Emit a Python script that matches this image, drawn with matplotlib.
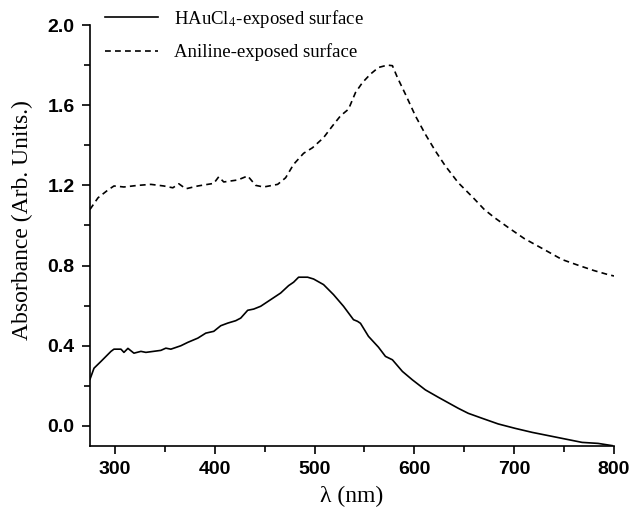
import matplotlib
matplotlib.use('Agg')
import matplotlib.pyplot as plt
from matplotlib.ticker import MultipleLocator

wl_hau = [275, 279, 286, 296, 299, 306, 309, 313, 319, 326, 331, 346, 351, 356,
          366, 373, 383, 391, 399, 406, 413, 421, 426, 433, 439, 446, 456, 466,
          474, 479, 484, 493, 499, 509, 519, 529, 539, 543, 546, 554, 564, 571,
          578, 588, 598, 611, 624, 644, 654, 668, 684, 701, 718, 734, 751, 768,
          784, 798]
abs_hau = [0.233, 0.288, 0.322, 0.372, 0.383, 0.383, 0.367, 0.387, 0.363, 0.372,
           0.367, 0.377, 0.388, 0.383, 0.400, 0.417, 0.438, 0.463, 0.472, 0.500,
           0.513, 0.525, 0.538, 0.577, 0.583, 0.597, 0.630, 0.663, 0.700, 0.717,
           0.742, 0.742, 0.733, 0.705, 0.655, 0.597, 0.530, 0.522, 0.512, 0.447,
           0.393, 0.347, 0.330, 0.272, 0.230, 0.180, 0.143, 0.088, 0.063, 0.038,
           0.010, -0.012, -0.032, -0.048, -0.065, -0.082, -0.087, -0.098]

wl_ani = [275, 283, 293, 299, 309, 323, 336, 349, 358, 364, 371, 383, 399, 404,
          409, 423, 433, 441, 449, 463, 471, 479, 489, 498, 509, 518, 526, 534,
          541, 548, 556, 564, 573, 578, 583, 591, 601, 611, 621, 631, 644, 659,
          670, 680, 694, 710, 730, 748, 765, 780, 794, 800]
abs_ani = [1.080, 1.138, 1.177, 1.197, 1.192, 1.200, 1.205, 1.197, 1.188, 1.208,
           1.183, 1.197, 1.210, 1.243, 1.217, 1.227, 1.247, 1.200, 1.192, 1.205,
           1.238, 1.305, 1.360, 1.388, 1.438, 1.497, 1.547, 1.580, 1.663, 1.713,
           1.755, 1.788, 1.800, 1.797, 1.738, 1.655, 1.547, 1.455, 1.372, 1.297,
           1.213, 1.138, 1.080, 1.040, 0.990, 0.935, 0.880, 0.830, 0.800, 0.775,
           0.755, 0.748]

plt.rcParams['mathtext.fontset'] = 'stix'
serif = 'Liberation Serif'
sans = 'Liberation Sans'

fig = plt.figure(figsize=(6.3, 5.13), dpi=100)
ax = fig.add_axes([90 / 630, 1 - 446 / 513, 524 / 630, 421 / 513])

ax.plot(wl_hau, abs_hau, color='black', linewidth=1.2, label='HAuCl$_4$-exposed surface')
ax.plot(wl_ani, abs_ani, color='black', linewidth=1.2, linestyle=(0, (3.5, 2.5)),
        label='Aniline-exposed surface')

ax.set_xlim(275, 800)
ax.set_ylim(-0.1, 2.0)
ax.xaxis.set_major_locator(MultipleLocator(100))
ax.xaxis.set_minor_locator(MultipleLocator(50))
ax.yaxis.set_minor_locator(MultipleLocator(0.2))
ax.set_yticks([0.0, 0.4, 0.8, 1.2, 1.6, 2.0])
ax.set_yticklabels(['0.0', '0.4', '0.8', '1.2', '1.6', '2.0'])

ax.spines['top'].set_visible(False)
ax.spines['right'].set_visible(False)
for s in ['left', 'bottom']:
    ax.spines[s].set_linewidth(1.2)
ax.tick_params(which='major', direction='out', length=6, width=1.2, pad=5)
ax.tick_params(which='minor', direction='out', length=4, width=1.2)
for lbl in ax.get_xticklabels() + ax.get_yticklabels():
    lbl.set_fontfamily(sans)
    lbl.set_fontweight('bold')
    lbl.set_fontsize(14)

ax.set_xlabel('λ (nm)', fontfamily=serif, fontsize=17)
ax.set_ylabel('Absorbance (Arb. Units.)', fontfamily=serif, fontsize=17)
ax.yaxis.set_label_coords(-0.109, 0.537)
ax.xaxis.set_label_coords(0.5, -0.095)

ax.legend(loc='upper left', bbox_to_anchor=(105 / 630, 1 - 8 / 513),
          bbox_transform=fig.transFigure, frameon=False, borderpad=0,
          borderaxespad=0, handlelength=2.8, handletextpad=0.9, labelspacing=0.72,
          prop={'family': serif, 'size': 13.5})

fig.savefig('out.png', dpi=100)
